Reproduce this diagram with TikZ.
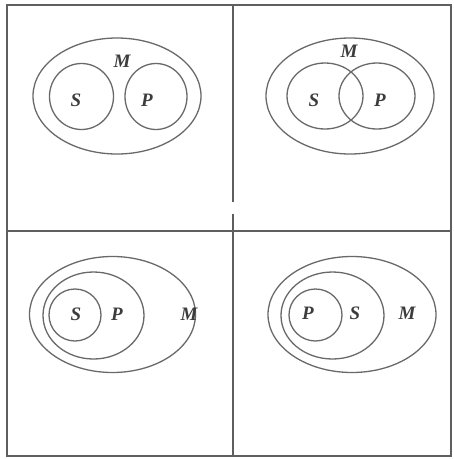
\documentclass[tikz,border=0pt]{standalone}
\usepackage{fontspec}
\setmainfont{Liberation Serif}
\begin{document}
\begin{tikzpicture}[x=1pt,y=-1pt,
  frameline/.style={draw={rgb,255:red,95;green,95;blue,95}, line width=1.8pt},
  setline/.style={draw={rgb,255:red,105;green,105;blue,105}, line width=1.3pt},
  lbl/.style={font=\fontsize{19}{19}\selectfont\itshape\bfseries, text={rgb,255:red,60;green,60;blue,60}, inner sep=0pt}]
\useasboundingbox (0,0) rectangle (454,459);
\fill[white] (0,0) rectangle (454,459);
% frame and dividers
\draw[frameline] (7,5) rectangle (451,456);
\coordinate (vt) at (233,5);
\coordinate (vg1) at (233,202);
\coordinate (vg2) at (233,214);
\coordinate (vb) at (233,456);
\coordinate (hl) at (7,231);
\coordinate (hr) at (451,231);
\draw[frameline] (vt) -- (vg1);
\draw[frameline] (vg2) -- (vb);
\draw[frameline] (hl) -- (hr);
% top-left: S and P disjoint inside M
\draw[setline] (117,96) ellipse [x radius=84, y radius=58];
\draw[setline] (81.5,96.5) ellipse [x radius=32, y radius=33];
\draw[setline] (156,96.5) ellipse [x radius=31, y radius=33];
\node[lbl] (m1) at (122,61) {M};
\node[lbl] (s1) at (76,100) {S};
\node[lbl] (p1) at (147,100) {P};
% top-right: S and P overlapping inside M
\draw[setline] (350,96) ellipse [x radius=84, y radius=58];
\draw[setline] (325,96) ellipse [x radius=38, y radius=33];
\draw[setline] (377,96) ellipse [x radius=38, y radius=33];
\node[lbl] (m2) at (349,51) {M};
\node[lbl] (s2) at (314,100) {S};
\node[lbl] (p2) at (380,100) {P};
% bottom-left: S in P in M
\draw[setline] (112.5,314.5) ellipse [x radius=83, y radius=58];
\draw[setline] (93.5,315.5) ellipse [x radius=50.5, y radius=43.5];
\draw[setline] (75,315) ellipse [x radius=26, y radius=26];
\node[lbl] (s3) at (76,314) {S};
\node[lbl] (p3) at (117,314) {P};
\node[lbl] (m3) at (189,314) {M};
% bottom-right: P in S in M
\draw[setline] (352,314.5) ellipse [x radius=84, y radius=58];
\draw[setline] (332.5,315.5) ellipse [x radius=51.5, y radius=43.5];
\draw[setline] (315.5,315) ellipse [x radius=26.5, y radius=26];
\node[lbl] (p4) at (308,313) {P};
\node[lbl] (s4) at (355,313) {S};
\node[lbl] (m4) at (407,313) {M};
\end{tikzpicture}
\end{document}
